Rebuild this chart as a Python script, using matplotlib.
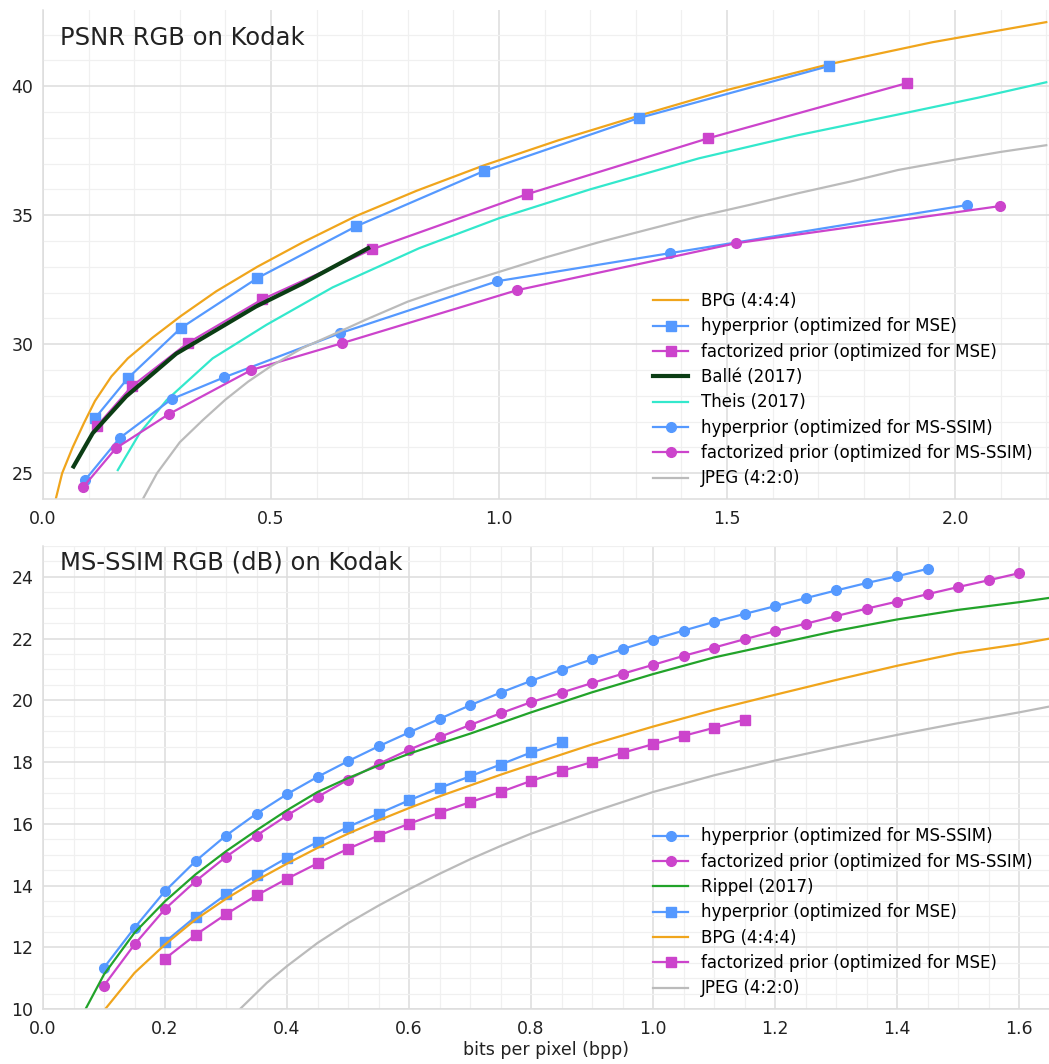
import numpy as np
import matplotlib
matplotlib.use("Agg")
import matplotlib.pyplot as plt
from matplotlib.ticker import MultipleLocator

# ----- Colours -----
c_blue = "#5599ff"
c_mag = "#cc44cc"
c_orange = "#f0a51c"
c_turq = "#33e8cc"
c_gray = "#bbbbbb"
c_dark = "#0b3d14"
c_green = "#22a32a"

# ===== PSNR data (top) =====
bpg_psnr_x = [0.028, 0.042, 0.065, 0.09, 0.114, 0.15, 0.186, 0.24, 0.303, 0.38, 0.47, 0.569,
              0.687, 0.82, 0.967, 1.13, 1.306, 1.5, 1.724, 1.95, 2.2]
bpg_psnr_y = [24.0, 25.0, 26.0, 26.95, 27.8, 28.75, 29.45, 30.25, 31.1, 32.05, 33.0, 33.94,
              34.97, 35.95, 36.93, 37.9, 38.85, 39.85, 40.85, 41.7, 42.48]

hyp_mse_psnr_x = [0.114, 0.186, 0.302, 0.470, 0.687, 0.967, 1.306, 1.724]
hyp_mse_psnr_y = [27.13, 28.68, 30.62, 32.56, 34.57, 36.71, 38.76, 40.78]

fac_mse_psnr_x = [0.118, 0.195, 0.317, 0.481, 0.722, 1.061, 1.459, 1.895]
fac_mse_psnr_y = [26.82, 28.37, 30.04, 31.74, 33.68, 35.81, 37.98, 40.12]

balle_x = [0.067, 0.109, 0.182, 0.292, 0.467, 0.569, 0.713]
balle_y = [25.26, 26.55, 27.97, 29.63, 31.46, 32.35, 33.72]

theis_x = [0.164, 0.212, 0.271, 0.372, 0.49, 0.635, 0.825, 1.0, 1.2, 1.438, 1.656, 1.875,
           2.05, 2.2]
theis_y = [25.12, 26.55, 27.83, 29.45, 30.75, 32.2, 33.72, 34.88, 36.0, 37.2, 38.1, 38.9,
           39.55, 40.15]

hyp_ssim_psnr_x = [0.092, 0.168, 0.282, 0.398, 0.652, 0.996, 1.376, 2.026]
hyp_ssim_psnr_y = [24.73, 26.36, 27.87, 28.72, 30.43, 32.44, 33.53, 35.39]

fac_ssim_psnr_x = [0.088, 0.160, 0.276, 0.457, 0.656, 1.039, 1.519, 2.098]
fac_ssim_psnr_y = [24.46, 25.97, 27.29, 29.0, 30.04, 32.09, 33.91, 35.35]

jpeg_psnr_x = [0.219, 0.25, 0.3, 0.35, 0.4, 0.45, 0.5, 0.569, 0.652, 0.708, 0.8, 0.9, 1.0,
               1.1, 1.219, 1.328, 1.438, 1.55, 1.656, 1.77, 1.875, 2.0, 2.1, 2.2]
jpeg_psnr_y = [24.0, 25.0, 26.2, 27.05, 27.85, 28.55, 29.15, 29.85, 30.5, 30.95, 31.65, 32.25,
               32.8, 33.35, 33.95, 34.45, 34.95, 35.4, 35.85, 36.3, 36.75, 37.15, 37.45, 37.71]

# ===== MS-SSIM data (bottom) =====
hyp_ssim_x = [0.1, 0.15, 0.2, 0.25, 0.3, 0.35, 0.4, 0.45, 0.5, 0.55, 0.6, 0.65, 0.7, 0.75,
              0.8, 0.85, 0.9, 0.95, 1.0, 1.05, 1.1, 1.15, 1.2, 1.25, 1.3, 1.35, 1.4, 1.45]
hyp_ssim_y = [11.34, 12.63, 13.82, 14.79, 15.62, 16.33, 16.96, 17.52, 18.03, 18.51, 18.96,
              19.40, 19.84, 20.25, 20.63, 20.99, 21.33, 21.66, 21.97, 22.26, 22.54, 22.80,
              23.05, 23.31, 23.56, 23.80, 24.02, 24.26]

fac_ssim_x = [0.1, 0.15, 0.2, 0.25, 0.3, 0.35, 0.4, 0.45, 0.5, 0.55, 0.6, 0.65, 0.7, 0.75,
              0.8, 0.85, 0.9, 0.95, 1.0, 1.05, 1.1, 1.15, 1.2, 1.25, 1.3, 1.35, 1.4, 1.45,
              1.5, 1.55, 1.6]
fac_ssim_y = [10.76, 12.09, 13.24, 14.14, 14.93, 15.62, 16.27, 16.87, 17.43, 17.94, 18.40,
              18.81, 19.20, 19.58, 19.94, 20.25, 20.56, 20.86, 21.15, 21.44, 21.71, 21.98,
              22.24, 22.48, 22.73, 22.97, 23.20, 23.44, 23.67, 23.89, 24.12]

rippel_x = [0.069, 0.1, 0.15, 0.2, 0.25, 0.3, 0.35, 0.4, 0.45, 0.5, 0.55, 0.6, 0.65, 0.7,
            0.8, 0.9, 1.0, 1.1, 1.2, 1.3, 1.4, 1.5, 1.6, 1.65]
rippel_y = [9.97, 11.12, 12.47, 13.49, 14.36, 15.11, 15.79, 16.44, 17.03, 17.48, 17.89, 18.27,
            18.60, 18.92, 19.61, 20.26, 20.85, 21.39, 21.82, 22.25, 22.62, 22.93, 23.18, 23.32]

hyp_mse_ssim_x = [0.2, 0.25, 0.3, 0.35, 0.4, 0.45, 0.5, 0.55, 0.6, 0.65, 0.7, 0.75, 0.8, 0.85]
hyp_mse_ssim_y = [12.17, 12.99, 13.71, 14.33, 14.90, 15.41, 15.90, 16.33, 16.76, 17.16,
                  17.54, 17.92, 18.31, 18.64]

bpg_ssim_x = [0.1, 0.15, 0.2, 0.25, 0.3, 0.35, 0.4, 0.45, 0.5, 0.55, 0.6, 0.65, 0.7, 0.75,
              0.8, 0.9, 1.0, 1.1, 1.2, 1.3, 1.4, 1.5, 1.6, 1.65]
bpg_ssim_y = [9.95, 11.17, 12.09, 12.90, 13.57, 14.17, 14.71, 15.22, 15.68, 16.11, 16.51,
              16.89, 17.24, 17.59, 17.92, 18.57, 19.15, 19.69, 20.18, 20.66, 21.12, 21.53,
              21.82, 22.0]

fac_mse_ssim_x = [0.2, 0.25, 0.3, 0.35, 0.4, 0.45, 0.5, 0.55, 0.6, 0.65, 0.7, 0.75, 0.8,
                  0.85, 0.9, 0.95, 1.0, 1.05, 1.1, 1.15]
fac_mse_ssim_y = [11.63, 12.40, 13.07, 13.68, 14.22, 14.72, 15.19, 15.62, 16.0, 16.36,
                  16.70, 17.03, 17.39, 17.71, 18.0, 18.30, 18.58, 18.85, 19.11, 19.37]

jpeg_ssim_x = [0.323, 0.367, 0.4, 0.45, 0.5, 0.55, 0.6, 0.65, 0.7, 0.75, 0.8, 0.9, 1.0,
               1.1, 1.2, 1.3, 1.4, 1.5, 1.6, 1.65]
jpeg_ssim_y = [10.0, 10.85, 11.39, 12.14, 12.78, 13.35, 13.88, 14.38, 14.85, 15.28, 15.68,
               16.38, 17.03, 17.57, 18.05, 18.48, 18.88, 19.26, 19.61, 19.80]

# ----- Figure -----
plt.rcParams["font.family"] = "DejaVu Sans"
fig = plt.figure(figsize=(10.49, 10.64), dpi=100)
ax1 = fig.add_axes([43 / 1049, 1 - 499 / 1064, 1006 / 1049, 489 / 1064])
ax2 = fig.add_axes([43 / 1049, 1 - 1009 / 1064, 1006 / 1049, 463 / 1064])


def style(ax):
    ax.set_facecolor("white")
    ax.grid(True, which="major", color="#dddddd", lw=1.1, zorder=0)
    ax.grid(True, which="minor", color="#f0f0f0", lw=0.9, zorder=0)
    ax.set_axisbelow(True)
    for s in ["top", "right"]:
        ax.spines[s].set_visible(False)
    for s in ["left", "bottom"]:
        ax.spines[s].set_color("#dddddd")
        ax.spines[s].set_linewidth(1.1)
    ax.tick_params(which="both", length=0, labelsize=12.5, labelcolor="#222222")
    ax.tick_params(axis="y", pad=7)
    ax.tick_params(axis="x", pad=8)


def legend(ax):
    ax.legend(loc="lower right", frameon=False, fontsize=12, handlelength=2.1,
              handletextpad=0.75, labelspacing=0.44, borderaxespad=0.3,
              bbox_to_anchor=(0.995, 0.0))


lw = 1.6
ms = 7

# top
ax1.plot(bpg_psnr_x, bpg_psnr_y, color=c_orange, lw=lw, label="BPG (4:4:4)")
ax1.plot(hyp_mse_psnr_x, hyp_mse_psnr_y, color=c_blue, lw=lw, marker="s", ms=ms,
         label="hyperprior (optimized for MSE)")
ax1.plot(fac_mse_psnr_x, fac_mse_psnr_y, color=c_mag, lw=lw, marker="s", ms=ms,
         label="factorized prior (optimized for MSE)")
ax1.plot(balle_x, balle_y, color=c_dark, lw=3, label="Ballé (2017)")
ax1.plot(theis_x, theis_y, color=c_turq, lw=lw, label="Theis (2017)")
ax1.plot(hyp_ssim_psnr_x, hyp_ssim_psnr_y, color=c_blue, lw=lw, marker="o", ms=ms,
         label="hyperprior (optimized for MS-SSIM)")
ax1.plot(fac_ssim_psnr_x, fac_ssim_psnr_y, color=c_mag, lw=lw, marker="o", ms=ms,
         label="factorized prior (optimized for MS-SSIM)")
ax1.plot(jpeg_psnr_x, jpeg_psnr_y, color=c_gray, lw=lw, label="JPEG (4:2:0)")
ax1.set_xlim(0, 2.206)
ax1.set_ylim(24, 42.95)
ax1.xaxis.set_major_locator(MultipleLocator(0.5))
ax1.xaxis.set_minor_locator(MultipleLocator(0.1))
ax1.yaxis.set_major_locator(MultipleLocator(5))
ax1.yaxis.set_minor_locator(MultipleLocator(1))
style(ax1)
ax1.text(0.0165, 0.929, "PSNR RGB on Kodak", transform=ax1.transAxes, fontsize=17.5,
         color="#222222", va="baseline")
legend(ax1)

# bottom
ax2.plot(hyp_ssim_x, hyp_ssim_y, color=c_blue, lw=lw, marker="o", ms=ms,
         label="hyperprior (optimized for MS-SSIM)")
ax2.plot(fac_ssim_x, fac_ssim_y, color=c_mag, lw=lw, marker="o", ms=ms,
         label="factorized prior (optimized for MS-SSIM)")
ax2.plot(rippel_x, rippel_y, color=c_green, lw=lw, label="Rippel (2017)")
ax2.plot(hyp_mse_ssim_x, hyp_mse_ssim_y, color=c_blue, lw=lw, marker="s", ms=ms,
         label="hyperprior (optimized for MSE)")
ax2.plot(bpg_ssim_x, bpg_ssim_y, color=c_orange, lw=lw, label="BPG (4:4:4)")
ax2.plot(fac_mse_ssim_x, fac_mse_ssim_y, color=c_mag, lw=lw, marker="s", ms=ms,
         label="factorized prior (optimized for MSE)")
ax2.plot(jpeg_ssim_x, jpeg_ssim_y, color=c_gray, lw=lw, label="JPEG (4:2:0)")
ax2.set_xlim(0, 1.649)
ax2.set_ylim(10, 25)
ax2.xaxis.set_major_locator(MultipleLocator(0.2))
ax2.xaxis.set_minor_locator(MultipleLocator(0.05))
ax2.yaxis.set_major_locator(MultipleLocator(2))
ax2.yaxis.set_minor_locator(MultipleLocator(0.5))
style(ax2)
ax2.set_xlabel("bits per pixel (bpp)", fontsize=12.5, color="#222222", labelpad=2)
ax2.text(0.0165, 0.949, "MS-SSIM RGB (dB) on Kodak", transform=ax2.transAxes,
         fontsize=17.5, color="#222222", va="baseline")
legend(ax2)

fig.savefig("out.png", dpi=100)
